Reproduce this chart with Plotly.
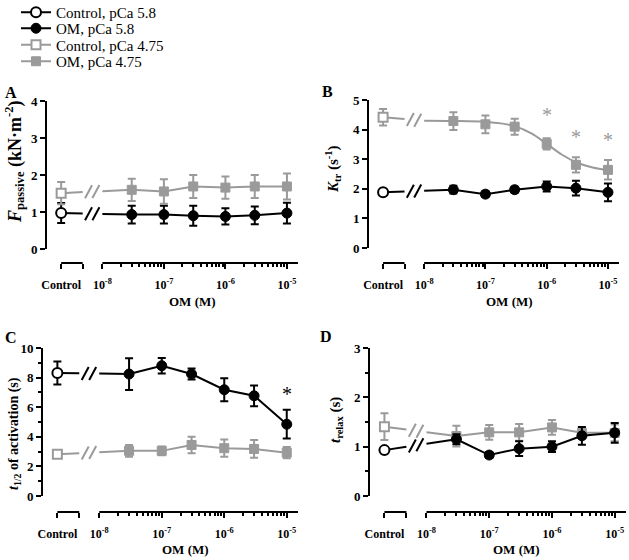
import numpy as np
import plotly.graph_objects as go

# ---------------- data ----------------
OM_CONC = [3e-8, 1e-7, 3e-7, 1e-6, 3e-6, 1e-5]
X_TICK_TEXT = ["Control", "", "10<sup>-8</sup>", "10<sup>-7</sup>", "10<sup>-6</sup>", "10<sup>-5</sup>"]
LEGEND_NAMES = ["Control, pCa 5.8", "OM, pCa 5.8", "Control, pCa 4.75", "OM, pCa 4.75"]

# Panel A: F passive (kN m^-2)
A_ctrl58, A_ctrl58_err = 0.97, 0.27
A_om58 = [0.93, 0.93, 0.90, 0.88, 0.91, 0.97]
A_om58_err = [0.24, 0.24, 0.27, 0.22, 0.24, 0.28]
A_ctrl475, A_ctrl475_err = 1.51, 0.30
A_om475 = [1.60, 1.555, 1.69, 1.66, 1.69, 1.69]
A_om475_err = [0.30, 0.33, 0.31, 0.30, 0.31, 0.35]

# Panel B: Ktr (s^-1)
B_ctrl58, B_ctrl58_err = 1.88, 0.08
B_om58 = [1.97, 1.82, 1.97, 2.08, 2.02, 1.88]
B_om58_err = [0.13, 0.10, 0.10, 0.17, 0.25, 0.30]
B_ctrl475, B_ctrl475_err = 4.42, 0.28
B_om475 = [4.29, 4.18, 4.10, 3.52, 2.81, 2.64]
B_om475_err = [0.30, 0.30, 0.27, 0.19, 0.26, 0.33]
B_fit_conc = [1e-8, 3.16e-8, 1e-7, 1.78e-7, 3.16e-7, 5.62e-7, 1e-6, 1.78e-6, 3.16e-6, 5.62e-6, 1e-5]
B_fit = [4.30, 4.29, 4.26, 4.21, 4.10, 3.87, 3.52, 3.15, 2.88, 2.72, 2.63]
B_star_conc = [1e-6, 3e-6, 1e-5]
B_star_y = [4.38, 3.65, 3.56]

# Panel C: t1/2 of activation (s)
C_ctrl58, C_ctrl58_err = 8.31, 0.77
C_om58 = [8.24, 8.80, 8.24, 7.18, 6.77, 4.85]
C_om58_err = [1.07, 0.52, 0.37, 0.77, 0.70, 0.97]
C_ctrl475, C_ctrl475_err = 2.82, 0.20
C_om475 = [3.05, 3.05, 3.45, 3.23, 3.18, 2.93]
C_om475_err = [0.40, 0.30, 0.56, 0.58, 0.60, 0.38]
C_star_conc = [1e-5]
C_star_y = [7.07]

# Panel D: t relax (s)
D_ctrl58, D_ctrl58_err = 0.93, 0.05
D_om58 = [1.15, 0.83, 0.96, 1.00, 1.22, 1.28]
D_om58_err = [0.10, 0.06, 0.15, 0.11, 0.18, 0.20]
D_ctrl475, D_ctrl475_err = 1.405, 0.27
D_om475 = [1.215, 1.29, 1.29, 1.39, 1.28, 1.28]
D_om475_err = [0.21, 0.15, 0.17, 0.15, 0.12, 0.17]

# ---------------- styling / geometry ----------------
BLACK = "#000000"
GREY = "#9a9a9a"
SERIF = "Liberation Serif"
W, H = 629, 560

CTRL_X = -8.67        # position of the control group on the log10 axis
BRK_END = -8.32       # end of the control bracket
LOG_START = -8.0
X_MIN, X_MAX = -8.9, -4.82
SLASHES = [-8.225, -8.105]

LEGEND_TOP = [-4, 12, 28.5, 45]   # pixel tops of the legend boxes
LEGEND_X = 16

def px(x):
    return x / W

def py(y):
    return 1 - y / H

PANELS = {
    "A": dict(dom_x=(47, 298), dom_y=(249, 101), axis_y=263, ymax=4, dtick=1, minor=None,
              title="<i>F</i><sub>passive</sub> (kN·m<sup>-2</sup>)", title_size=18,
              title_xy=(14, 162), letter_xy=(11, 93), om_xy=(192, 301)),
    "B": dict(dom_x=(369, 619), dom_y=(248, 100), axis_y=263, ymax=5, dtick=1, minor=None,
              title="<i>K</i><sub>tr</sub> (s<sup>-1</sup>)", title_size=15,
              title_xy=(333, 169), letter_xy=(327, 92), om_xy=(509, 301)),
    "C": dict(dom_x=(43, 298), dom_y=(496, 348), axis_y=512, ymax=10, dtick=2, minor=1,
              title="<i>t</i><sub>1/2</sub> of activation (s)", title_size=14,
              title_xy=(14, 434), letter_xy=(11, 337), om_xy=(185, 549)),
    "D": dict(dom_x=(370, 626), dom_y=(496, 348), axis_y=512, ymax=3, dtick=1, minor=0.5,
              title="<i>t</i><sub>relax</sub> (s)", title_size=15,
              title_xy=(336, 420), letter_xy=(326, 336), om_xy=(516, 549)),
}

DATA = {
    "A": [(A_ctrl58, A_ctrl58_err, A_om58, A_om58_err, BLACK, "circle"),
          (A_ctrl475, A_ctrl475_err, A_om475, A_om475_err, GREY, "square")],
    "B": [(B_ctrl58, B_ctrl58_err, B_om58, B_om58_err, BLACK, "circle"),
          (B_ctrl475, B_ctrl475_err, B_om475, B_om475_err, GREY, "square")],
    "C": [(C_ctrl58, C_ctrl58_err, C_om58, C_om58_err, BLACK, "circle"),
          (C_ctrl475, C_ctrl475_err, C_om475, C_om475_err, GREY, "square")],
    "D": [(D_ctrl475, D_ctrl475_err, D_om475, D_om475_err, GREY, "square"),
          (D_ctrl58, D_ctrl58_err, D_om58, D_om58_err, BLACK, "circle")],
}

LEGEND_KEYS = ["legend", "legend2", "legend3", "legend4"]

fig = go.Figure()
shapes = []
annotations = []
layout = {}

om_x = list(np.log10(OM_CONC))
minor_vals = [d + np.log10(k) for d in (-8, -7, -6) for k in range(2, 10)]

for i, key in enumerate(["A", "B", "C", "D"]):
    P = PANELS[key]
    n = "" if i == 0 else str(i + 1)
    xa, ya = "x" + n, "y" + n
    xref_name, yref_name = "xaxis" + n, "yaxis" + n

    for (cy, cerr, omy, omerr, col, sym) in DATA[key]:
        is_black = col == BLACK
        legend_base = 0 if is_black else 2
        show = key == "A"
        msize = 10 if sym == "circle" else 9
        # connecting line from control to first OM value, interrupted by a break
        if key == "B" and not is_black:
            fx, fy = float(np.log10(B_fit_conc[0])), B_fit[0]
        else:
            fx, fy = om_x[0], omy[0]

        def interp(x, cy=cy, fx=fx, fy=fy):
            return cy + (fy - cy) * (x - CTRL_X) / (fx - CTRL_X)

        fig.add_trace(go.Scatter(x=[CTRL_X, BRK_END], y=[cy, interp(BRK_END)], mode="lines",
                                 line=dict(color=col, width=2), xaxis=xa, yaxis=ya,
                                 showlegend=False, hoverinfo="skip"))
        if not (key == "B" and not is_black):
            fig.add_trace(go.Scatter(x=[LOG_START, fx], y=[interp(LOG_START), fy], mode="lines",
                                     line=dict(color=col, width=2), xaxis=xa, yaxis=ya,
                                     showlegend=False, hoverinfo="skip"))
        for sx in SLASHES:
            shapes.append(dict(type="line", xref=xa, yref=ya, xsizemode="pixel", ysizemode="pixel",
                               xanchor=sx, yanchor=interp(sx), x0=-3.5, x1=3.5, y0=-6.5, y1=6.5,
                               line=dict(color=col, width=2)))
        # OM series
        if key == "B" and not is_black:
            fig.add_trace(go.Scatter(x=list(np.log10(B_fit_conc)), y=B_fit, mode="lines",
                                     line=dict(color=col, width=2, shape="spline"), xaxis=xa, yaxis=ya,
                                     showlegend=False, hoverinfo="skip"))
            om_mode = "markers"
        else:
            om_mode = "lines+markers"
        fig.add_trace(go.Scatter(
            x=om_x, y=omy, mode=om_mode,
            line=dict(color=col, width=2),
            marker=dict(symbol=sym, size=msize, color=col, line=dict(color=col, width=1)),
            error_y=dict(type="data", array=omerr, color=col, thickness=2, width=4),
            xaxis=xa, yaxis=ya, name=LEGEND_NAMES[legend_base + 1], showlegend=show,
            legend=LEGEND_KEYS[legend_base + 1], hoverinfo="skip"))
        # control point
        fig.add_trace(go.Scatter(
            x=[CTRL_X], y=[cy], mode="lines+markers",
            line=dict(color=col, width=2),
            marker=dict(symbol=sym, size=msize, color="white", line=dict(color=col, width=2)),
            error_y=dict(type="data", array=[cerr], color=col, thickness=2, width=4),
            xaxis=xa, yaxis=ya, name=LEGEND_NAMES[legend_base], showlegend=show,
            legend=LEGEND_KEYS[legend_base], hoverinfo="skip"))

    # significance stars
    if key == "B":
        for sc, sy in zip(B_star_conc, B_star_y):
            annotations.append(dict(x=float(np.log10(sc)), y=sy, xref=xa, yref=ya, text="*",
                                    showarrow=False, yshift=3, xanchor="center", yanchor="middle",
                                    font=dict(family=SERIF, size=20, color=GREY)))
    if key == "C":
        for sc, sy in zip(C_star_conc, C_star_y):
            annotations.append(dict(x=float(np.log10(sc)), y=sy, xref=xa, yref=ya, text="*",
                                    showarrow=False, yshift=-3, xanchor="center", yanchor="middle",
                                    font=dict(family=SERIF, size=20, color=BLACK)))

    # axes
    ay = py(P["axis_y"])
    layout[xref_name] = dict(
        domain=[px(P["dom_x"][0]), px(P["dom_x"][1])], range=[X_MIN, X_MAX],
        anchor="free", position=ay, showline=False, showgrid=False, zeroline=False,
        tickmode="array", tickvals=[CTRL_X, BRK_END, -8, -7, -6, -5], ticktext=X_TICK_TEXT,
        ticks="outside", ticklen=5, tickwidth=2, tickcolor=BLACK, ticklabelstandoff=6,
        tickfont=dict(family=SERIF, size=12, color=BLACK, weight="bold"),
        minor=dict(tickmode="array", tickvals=minor_vals, ticks="outside", ticklen=3,
                   tickwidth=1.5, tickcolor=BLACK),
    )
    ydict = dict(
        domain=[py(P["dom_y"][0]), py(P["dom_y"][1])], range=[0, P["ymax"]], anchor=xa,
        showline=True, linewidth=2, linecolor=BLACK, showgrid=False, zeroline=False,
        tickmode="linear", tick0=0, dtick=P["dtick"], ticks="outside", ticklen=5, tickwidth=2,
        tickcolor=BLACK, tickfont=dict(family=SERIF, size=13, color=BLACK, weight="bold"),
    )
    if P["minor"]:
        ydict["minor"] = dict(dtick=P["minor"], ticks="outside", ticklen=3, tickwidth=1.5,
                              tickcolor=BLACK)
    layout[yref_name] = ydict

    # separate x-axis segments
    shapes.append(dict(type="line", xref=xa, yref="paper", x0=CTRL_X, x1=BRK_END, y0=ay, y1=ay,
                       line=dict(color=BLACK, width=2)))
    shapes.append(dict(type="line", xref=xa, yref="paper", x0=LOG_START, x1=X_MAX, y0=ay, y1=ay,
                       line=dict(color=BLACK, width=2)))

    # titles and letters
    annotations.append(dict(x=px(P["title_xy"][0]), y=py(P["title_xy"][1]), xref="paper",
                            yref="paper", text=P["title"], textangle=-90, showarrow=False,
                            xanchor="center", yanchor="middle",
                            font=dict(family=SERIF, size=P["title_size"], color=BLACK, weight="bold")))
    annotations.append(dict(x=px(P["letter_xy"][0]), y=py(P["letter_xy"][1]), xref="paper",
                            yref="paper", text=key, showarrow=False,
                            xanchor="center", yanchor="middle",
                            font=dict(family=SERIF, size=16, color=BLACK, weight="bold")))
    annotations.append(dict(x=px(P["om_xy"][0]), y=py(P["om_xy"][1]), xref="paper",
                            yref="paper", text="OM (M)", showarrow=False,
                            xanchor="center", yanchor="middle",
                            font=dict(family=SERIF, size=13, color=BLACK, weight="bold")))

for k, ly in zip(LEGEND_KEYS, LEGEND_TOP):
    layout[k] = dict(x=px(LEGEND_X), y=py(ly), xanchor="left", yanchor="top",
                     bgcolor="rgba(0,0,0,0)", font=dict(family=SERIF, size=15, color=BLACK),
                     itemwidth=30)

fig.update_layout(
    width=W, height=H, margin=dict(l=0, r=0, t=0, b=0, autoexpand=False),
    paper_bgcolor="white", plot_bgcolor="white",
    showlegend=True,
    shapes=shapes, annotations=annotations,
    **layout,
)

fig.write_html("out.html", config={"displayModeBar": False},
               post_script="document.body.style.margin='0px';")
